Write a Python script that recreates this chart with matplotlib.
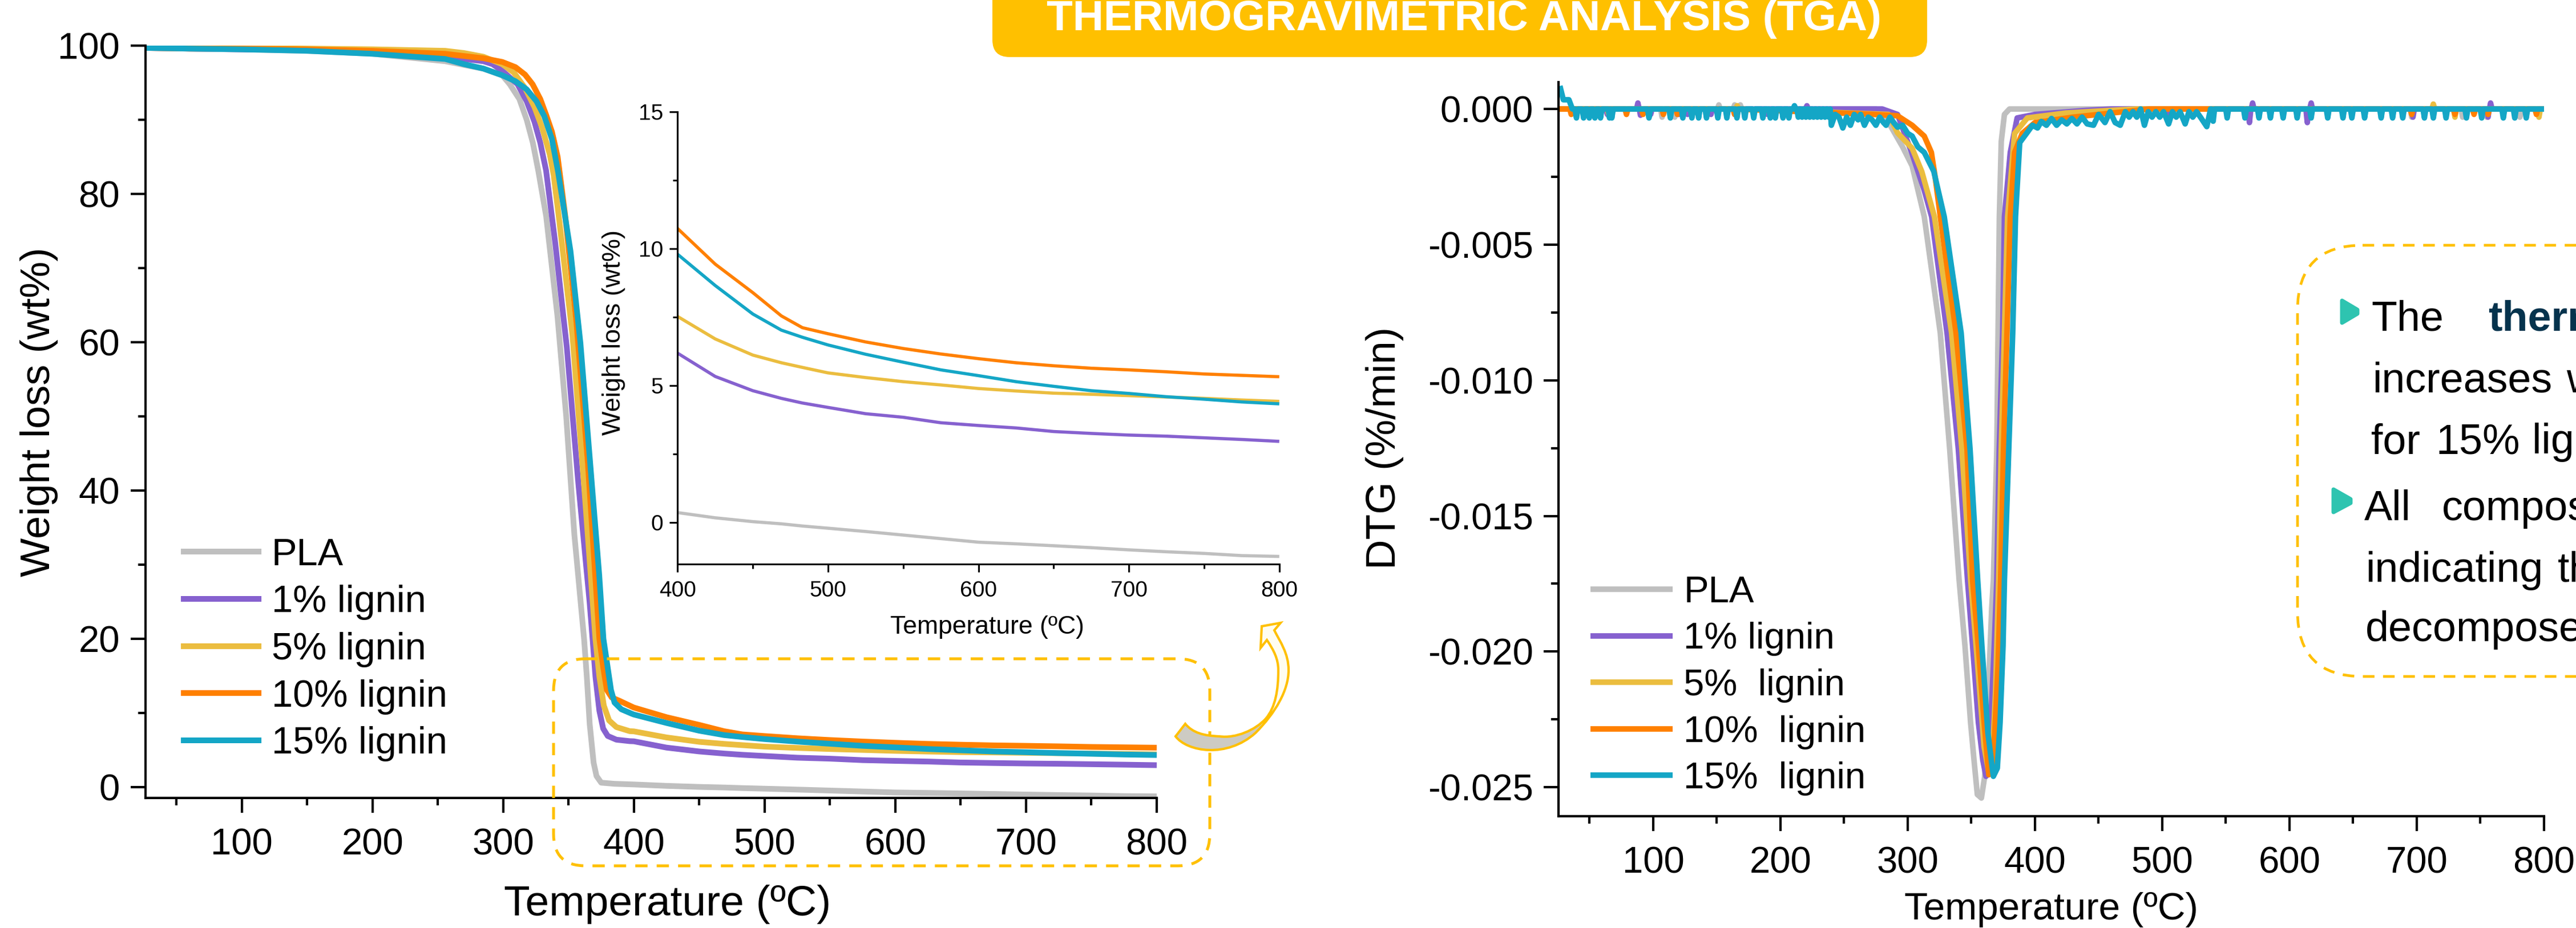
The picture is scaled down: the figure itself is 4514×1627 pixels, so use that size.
import matplotlib
matplotlib.use("Agg")
import matplotlib.pyplot as plt
from matplotlib.patches import FancyBboxPatch, PathPatch, Polygon
from matplotlib.path import Path
from matplotlib.ticker import MultipleLocator
from matplotlib.transforms import Affine2D

plt.rcParams["font.family"] = ["Liberation Sans", "DejaVu Sans"]

W, H = 4514, 1627

names_left = ["PLA", "1% lignin", "5% lignin", "10% lignin", "15% lignin"]
names_right = ["PLA", "1% lignin", "5%  lignin", "10%  lignin", "15%  lignin"]
colors = ["#BFBFBF", "#8661CF", "#EBBD3F", "#FF8000", "#14A6C6"]
dtg_ticks = [0, -0.005, -0.01, -0.015, -0.02, -0.025]
dtg_tick_labels = ["0.000", "-0.005", "-0.010", "-0.015", "-0.020", "-0.025"]

tail_t = [400, 425, 450, 469, 483, 500, 525, 550, 575, 600, 625, 650, 675, 700, 725, 750, 775, 800]
tail_pla = [0.36, 0.17, 0.03, -0.05, -0.13, -0.21, -0.33, -0.46, -0.59, -0.72, -0.78, -0.85, -0.92, -1.0, -1.07, -1.13, -1.21, -1.24]
tail_1 = [6.18, 5.33, 4.81, 4.53, 4.36, 4.2, 3.97, 3.84, 3.64, 3.54, 3.45, 3.32, 3.25, 3.19, 3.15, 3.09, 3.03, 2.96]
tail_5 = [7.52, 6.7, 6.11, 5.83, 5.66, 5.46, 5.29, 5.14, 5.02, 4.89, 4.8, 4.72, 4.68, 4.63, 4.58, 4.53, 4.47, 4.42]
tail_10 = [10.73, 9.43, 8.39, 7.54, 7.11, 6.89, 6.59, 6.35, 6.15, 5.98, 5.83, 5.72, 5.63, 5.57, 5.5, 5.42, 5.37, 5.32]
tail_15 = [9.79, 8.65, 7.61, 7.02, 6.76, 6.48, 6.14, 5.85, 5.57, 5.36, 5.14, 4.97, 4.81, 4.71, 4.59, 4.5, 4.4, 4.33]

head_t_pla = [26.5, 60, 100, 150, 200, 255.6, 270, 284.9, 299.3, 305, 312.4, 318, 322.7, 326.8, 332.9, 341.5, 348.2, 354.5, 361.9, 364, 366.2, 369.2, 371.4, 375, 385]
head_pla = [99.7, 99.6, 99.5, 99.3, 98.9, 97.9, 97.4, 96.9, 96, 94.8, 92.8, 90, 86.9, 83.2, 77, 63.6, 50.1, 34, 20, 14.9, 8.5, 3.3, 1.5, 0.6, 0.45]
head_t_1 = [26.5, 60, 100, 150, 200, 255.6, 270, 284.9, 291.9, 299.3, 311, 318, 324, 328.4, 332.8, 339.9, 348.7, 357.5, 366.1, 368.4, 370.6, 373.6, 376.5, 380, 386.6, 396.8]
head_1 = [99.7, 99.6, 99.5, 99.4, 99.1, 98.5, 98.2, 97.9, 97.5, 96.6, 94.8, 92.5, 89.7, 86.9, 83.2, 73.3, 59.3, 41, 25, 20, 14.9, 10.3, 7.9, 6.9, 6.4, 6.2]
head_t_5 = [26.5, 60, 100, 150, 200, 255.6, 270, 284.9, 299.3, 308, 316.7, 324, 329.9, 335.7, 338.7, 343, 353, 361.8, 370.6, 373.6, 377, 381, 386.6, 396.8]
head_5 = [99.7, 99.7, 99.7, 99.6, 99.5, 99.3, 99, 98.5, 97.5, 96.4, 94.3, 91.7, 88.9, 85.3, 82.5, 76.3, 61, 41, 20, 14.9, 11, 9, 8.1, 7.55]
head_t_10 = [26.5, 60, 100, 150, 200, 255.6, 270, 284.9, 299.3, 309.4, 316.7, 322.5, 328.4, 332.8, 337.3, 341.7, 347.5, 356.1, 364.8, 373.6, 376.5, 379.3, 383, 389.5]
head_10 = [99.7, 99.6, 99.6, 99.5, 99.3, 98.9, 98.6, 98.3, 97.8, 97.1, 96.1, 94.8, 92.8, 90.7, 88.4, 85, 77, 62.6, 43.7, 20, 16.2, 13.1, 12.1, 11.6]
head_t_15 = [26.5, 60, 100, 150, 200, 255.6, 270, 284.9, 299.3, 309.4, 318, 325.5, 331.4, 337.3, 342, 351.5, 359.1, 366.1, 373.5, 376.7, 379.5, 382.5, 385.2, 390.4, 398.4]
head_15 = [99.7, 99.6, 99.5, 99.3, 98.9, 98.2, 97.5, 96.9, 96, 95.2, 94.1, 92.5, 90.5, 87.4, 83, 72.3, 59.9, 44.7, 28.6, 20, 16.7, 13.1, 11.4, 10.5, 9.9]

# DTG outline of each curve
dtg_t_pla = [26, 275, 285, 296, 303.5, 313, 325.6, 333, 340.4, 345, 349.4, 352.5, 354.7, 357.9, 360.5, 363, 366, 367.3, 370, 371, 372, 373.5, 376, 380, 800]
dtg_pla = [0, 0, -0.0005, -0.0014, -0.0021, -0.00397, -0.00826, -0.01255, -0.01737, -0.0198, -0.02262, -0.0242, -0.02527, -0.0254, -0.0246, -0.0219, -0.0184, -0.01737, -0.01255, -0.00826, -0.00397, -0.0012, -0.0002, 0, 0]
dtg_t_1 = [26, 280, 292, 303.5, 313, 318.8, 330.9, 339.8, 347, 351, 355.5, 359, 361.5, 363.5, 366, 368, 370, 371.9, 374.6, 376, 380.6, 386, 400, 440, 460, 800]
dtg_1 = [0, 0, -0.0002, -0.00166, -0.003, -0.00397, -0.00826, -0.01255, -0.01737, -0.0198, -0.0226, -0.024, -0.0246, -0.0245, -0.0219, -0.0198, -0.01737, -0.01255, -0.00826, -0.00397, -0.0016, -0.00033, -0.0002, -0.00005, 0, 0]
dtg_t_5 = [26, 285, 292, 303.5, 311, 321, 334.5, 342.6, 349.5, 355, 360, 363.5, 366.5, 369, 371.5, 373.5, 376, 378.5, 384, 394, 424, 460, 480, 800]
dtg_5 = [0, -0.0002, -0.00088, -0.00145, -0.0023, -0.00397, -0.00826, -0.01255, -0.01737, -0.0205, -0.0235, -0.0244, -0.024, -0.0215, -0.01737, -0.01255, -0.00826, -0.00397, -0.0009, -0.00033, -0.00015, -0.00005, 0, 0]
dtg_t_10 = [26, 273, 292, 303.5, 313, 318.6, 322, 325.6, 338, 346.6, 351, 355.5, 360, 363.7, 365.5, 367.3, 371, 373, 375.3, 378, 380.6, 384, 390, 400, 430, 470, 490, 800]
dtg_10 = [0, -0.0002, -0.00025, -0.0006, -0.001, -0.0016, -0.00265, -0.00397, -0.00826, -0.01255, -0.01737, -0.0198, -0.0226, -0.02454, -0.0245, -0.024, -0.0205, -0.01737, -0.01255, -0.00826, -0.00397, -0.0016, -0.0009, -0.0005, -0.0003, -0.0001, 0, 0]
dtg_t_15 = [26.7, 29.4, 33.8, 36.5, 210, 240, 243, 246, 249, 252, 255, 258, 261, 263, 266, 269, 272, 275, 278, 281, 283, 286, 289, 292, 296, 300, 303.5, 308, 313, 320.5, 328.7, 342, 349, 355, 358.3, 363, 367.3, 370.4, 372.6, 374.9, 376, 379.4, 382.5, 384.7, 388, 393.7, 398, 402, 405, 409, 413, 417, 421, 425, 429, 433, 437, 441, 446, 450, 455, 459, 463, 467, 471, 474, 477, 480, 483, 486, 489, 492, 495, 498, 501, 505, 508, 511, 514, 518, 521, 524, 527, 530, 535, 538, 800]
dtg_15 = [0.00085, 0.00034, 0.00034, 0, 0, -0.0006, -0.0002, -0.0003, -0.0007, -0.0003, -0.0006, -0.0002, -0.0004, -0.0002, -0.0006, -0.0003, -0.0004, -0.0006, -0.0003, -0.0005, -0.0006, -0.0003, -0.0005, -0.00067, -0.0006, -0.0009, -0.001, -0.0014, -0.0016, -0.0023, -0.00397, -0.00826, -0.01255, -0.01737, -0.0198, -0.023, -0.0246, -0.0243, -0.0226, -0.0198, -0.01737, -0.01255, -0.00826, -0.00397, -0.00124, -0.00088, -0.0006, -0.0007, -0.00046, -0.0006, -0.00035, -0.0006, -0.0004, -0.00055, -0.00035, -0.00055, -0.0003, -0.00055, -0.0006, -0.0002, -0.0005, -0.0001, -0.0005, -0.0006, -0.0001, -0.0003, -0.0001, -0.0003, 0, -0.0006, -0.0001, -0.0003, -0.0001, -0.0003, -0.0001, -0.00055, -0.0001, -0.0003, -0.0001, -0.00055, -0.0001, -0.0003, -0.0001, -0.0003, -0.00065, 0, 0]

# single noise spikes on the flat part of each DTG curve
spike_t_pla = [107, 117, 135, 151.6, 164, 168.5, 188, 696, 736, 755, 781]
spike_pla = [-0.0003, -0.0003, -0.0002, 0.00015, 0.00015, 0.00015, -0.0002, -0.0003, -0.0003, -0.0003, -0.0003]
spike_t_1 = [64, 88, 90, 98, 120, 127, 145.4, 164, 179, 190, 220.8, 505, 568.5, 571, 614, 617, 697, 756, 758]
spike_1 = [-0.0002, 0.00022, -0.00023, -0.0002, -0.0002, -0.0002, -0.0002, -0.0002, -0.0002, -0.0002, 0.00012, -0.0005, -0.0005, 0.00022, -0.0005, 0.00022, -0.0003, -0.0003, 0.00022]
spike_t_5 = [65, 166, 713, 730, 796]
spike_5 = [-0.0002, 0.00012, 0.00018, -0.0003, -0.0003]
spike_t_10 = [35.6, 79, 92, 108, 119, 164, 696, 730, 745, 756, 794]
spike_10 = [-0.0002, -0.0002, -0.0002, -0.0002, -0.0002, -0.0002, -0.0002, -0.0002, -0.0002, -0.0002, -0.0002]
spike_t_15 = [39.7, 45.3, 49.8, 54.2, 58.6, 65.7, 67.5, 96.7, 113.5, 123.3, 130.4, 135.7, 141.9, 150.8, 157.9, 165.8, 172, 179, 186.2, 192, 196, 202, 206.6, 211, 214, 217, 220, 223, 226, 229, 232, 235, 238, 540, 551, 565, 576, 585, 595, 606, 617, 630, 642, 649, 659, 672, 681, 689, 706, 713, 723, 739, 751, 768, 777, 786]
spike_15 = [-0.00033] * 23 + [0.00012] + [-0.0003] * 9 + [-0.00045] + [-0.00033] * 22


def px_axes(left, top, right, bottom):
    return [left / W, 1 - bottom / H, (right - left) / W, (bottom - top) / H]


def add_spikes(t, v, spike_t, spike_v):
    pts = list(zip(t, v))
    for a, b in zip(spike_t, spike_v):
        pts += [(a - 1.1, 0), (a, b), (a + 1.1, 0)]
    pts.sort()
    return [p[0] for p in pts], [p[1] for p in pts]


def style_axis(ax, lw, major, minor, size, xpad, ypad):
    ax.spines["top"].set_visible(False)
    ax.spines["right"].set_visible(False)
    ax.spines["left"].set_linewidth(lw)
    ax.spines["bottom"].set_linewidth(lw)
    ax.tick_params(which="major", length=major, width=lw, labelsize=size)
    ax.tick_params(which="minor", length=minor, width=lw)
    ax.tick_params(axis="x", which="major", pad=xpad)
    ax.tick_params(axis="y", which="major", pad=ypad)
    ax.patch.set_visible(False)


fig = plt.figure(figsize=(W / 100, H / 100), dpi=100, facecolor="white")
px = Affine2D().scale(1, -1).translate(0, H)

# main TGA panel
ax1 = fig.add_axes(px_axes(255, 80, 2027, 1399))
tga_t = [head_t_pla + tail_t, head_t_1 + tail_t, head_t_5 + tail_t, head_t_10 + tail_t, head_t_15 + tail_t]
tga_v = [head_pla + tail_pla, head_1 + tail_1, head_5 + tail_5, head_10 + tail_10, head_15 + tail_15]
for t, v, c, n in zip(tga_t, tga_v, colors, names_left):
    ax1.plot(t, v, color=c, lw=7.2, label=n, solid_capstyle="butt", solid_joinstyle="round")
ax1.set_xlim(26.4, 800)
ax1.set_ylim(-1.46, 100)
ax1.xaxis.set_major_locator(MultipleLocator(100))
ax1.xaxis.set_minor_locator(MultipleLocator(50))
ax1.yaxis.set_major_locator(MultipleLocator(20))
ax1.yaxis.set_minor_locator(MultipleLocator(10))
style_axis(ax1, 3, 18.5, 9.5, 47, 19, 14)
ax1.set_xlabel("Temperature (ºC)", fontsize=54)
ax1.xaxis.set_label_coords(1170, 1586, transform=px)
ax1.xaxis.label.set_va("center")
ax1.set_ylabel("Weight loss (wt%)", fontsize=52)
ax1.yaxis.set_label_coords(69, 722, transform=px)
ax1.yaxis.label.set_va("center")
ax1.legend(loc="center left", bbox_to_anchor=(317, 1139), bbox_transform=px, frameon=False,
           fontsize=48, handlelength=2.12, handletextpad=0.26, labelspacing=0.31,
           borderpad=0, borderaxespad=0)

# inset zoom of the tail
ax2 = fig.add_axes(px_axes(1187.4, 195.6, 2241.7, 989), zorder=1)
for t, v, c in zip(tga_t, tga_v, colors):
    ax2.plot(t, v, color=c, lw=4, solid_capstyle="butt", solid_joinstyle="round")
ax2.set_xlim(400, 800)
ax2.set_ylim(-1.52, 15)
ax2.xaxis.set_major_locator(MultipleLocator(100))
ax2.xaxis.set_minor_locator(MultipleLocator(50))
ax2.yaxis.set_major_locator(MultipleLocator(5))
ax2.yaxis.set_minor_locator(MultipleLocator(2.5))
style_axis(ax2, 2.2, 10, 5.5, 28, 11, 8)
ax2.set_xlabel("Temperature (ºC)", fontsize=32)
ax2.xaxis.set_label_coords(1730, 1099, transform=px)
ax2.xaxis.label.set_va("center")
ax2.set_ylabel("Weight loss (wt%)", fontsize=32.5)
ax2.yaxis.set_label_coords(1075, 583, transform=px)
ax2.yaxis.label.set_va("center")

# DTG panel
ax3 = fig.add_axes(px_axes(2731, 144, 4458, 1431))
dtg_t = [dtg_t_pla, dtg_t_1, dtg_t_5, dtg_t_10, dtg_t_15]
dtg_v = [dtg_pla, dtg_1, dtg_5, dtg_10, dtg_15]
spike_t = [spike_t_pla, spike_t_1, spike_t_5, spike_t_10, spike_t_15]
spike_v = [spike_pla, spike_1, spike_5, spike_10, spike_15]
for i in range(5):
    t, v = add_spikes(dtg_t[i], dtg_v[i], spike_t[i], spike_v[i])
    ax3.plot(t, v, color=colors[i], lw=7, label=names_right[i], solid_capstyle="butt", solid_joinstyle="round")
ax3.set_xlim(25.6, 800)
ax3.set_ylim(-0.02607, 0.00099)
ax3.xaxis.set_major_locator(MultipleLocator(100))
ax3.xaxis.set_minor_locator(MultipleLocator(50))
ax3.set_yticks(dtg_ticks, dtg_tick_labels)
ax3.yaxis.set_minor_locator(MultipleLocator(0.0025))
style_axis(ax3, 3, 18.5, 9.5, 47, 19, 13)
ax3.set_xlabel("Temperature (ºC)", fontsize=48.5)
ax3.xaxis.set_label_coords(3594, 1595, transform=px)
ax3.xaxis.label.set_va("center")
ax3.set_ylabel("DTG (%/min)", fontsize=52.5)
ax3.yaxis.set_label_coords(2427, 786, transform=px)
ax3.yaxis.label.set_va("center")
ax3.legend(loc="center left", bbox_to_anchor=(2787, 1202), bbox_transform=px, frameon=False,
           fontsize=47, handlelength=2.2, handletextpad=0.3, labelspacing=0.33,
           borderpad=0, borderaxespad=0)

# title banner
fig.add_artist(FancyBboxPatch((1739 + 30, -80), 1638 - 60, 150, boxstyle="round,pad=30,rounding_size=30",
                              transform=px, fc="#FFC000", ec="none", zorder=3))
fig.text(2566, 53, "THERMOGRAVIMETRIC ANALYSIS (TGA)", transform=px, color="white", fontsize=54,
         fontweight="bold", ha="center", va="baseline", zorder=4)

# dashed boxes
dash = (0, (4.3, 3.2))
fig.add_artist(FancyBboxPatch((970 + 56, 1155 + 56), 1150 - 112, 363 - 112, boxstyle="round,pad=56,rounding_size=56",
                              transform=px, fc="none", ec="#FFC000", lw=3.6, ls=dash, zorder=5))
fig.add_artist(FancyBboxPatch((4026 + 114, 430 + 114), 900 - 228, 756 - 228, boxstyle="round,pad=114,rounding_size=114",
                              transform=px, fc="none", ec="#FFC000", lw=3.4, ls=dash, zorder=5))

# curved arrow from the box to the inset
M, L, C, Z = Path.MOVETO, Path.LINETO, Path.CURVE4, Path.CLOSEPOLY
arrow_v = [(2077, 1269), (2060, 1291), (2080, 1318), (2150, 1330), (2200, 1285), (2235, 1250), (2258, 1210), (2258, 1175),
           (2258, 1145), (2243, 1125), (2233, 1105), (2244, 1092), (2211, 1098), (2209, 1136), (2220, 1122),
           (2232, 1140), (2240, 1155), (2240, 1175), (2240, 1210), (2235, 1240), (2218, 1260),
           (2200, 1280), (2165, 1295), (2137, 1291), (2110, 1290), (2090, 1285), (2077, 1269), (2077, 1269)]
arrow_c = [M, L, C, C, C, C, C, C, C, C, C, L, L, L, L, C, C, C, C, C, C, C, C, C, C, C, C, Z]
fig.add_artist(PathPatch(Path(arrow_v, arrow_c), transform=px, fc="#FFFDF0", ec="none", zorder=6))
gray_v = [(2077, 1269), (2060, 1291), (2080, 1318), (2150, 1330), (2200, 1285), (2218, 1260),
          (2200, 1280), (2165, 1295), (2137, 1291), (2110, 1290), (2090, 1285), (2077, 1269), (2077, 1269)]
gray_c = [M, L, C, C, C, L, C, C, C, C, C, C, Z]
fig.add_artist(PathPatch(Path(gray_v, gray_c), transform=px, fc="#CDCBC3", ec="none", zorder=6))
fig.add_artist(PathPatch(Path(arrow_v, arrow_c), transform=px, fc="none", ec="#FFC000", lw=3, zorder=7))

# text block on the right, cut by the picture edge as in the original
for shape in ([(4104, 527), (4104, 566), (4131, 550), (4131, 543)], [(4089, 858), (4089, 898), (4119, 882), (4119, 875)]):
    fig.add_artist(Polygon(shape, closed=True, transform=px, fc="#2EC4B0", ec="#2EC4B0", lw=5, joinstyle="round", zorder=5))

note_words = [("The", 4155, 580), ("increases", 4157, 688), ("with", 4497, 688), ("for", 4155, 795), ("15%", 4268, 795),
              ("lignin", 4437, 795), ("All", 4143, 912), ("composites", 4279, 912), ("indicating", 4145, 1020),
              ("that", 4482, 1020), ("decomposes", 4145, 1124)]
for word, x, y in note_words:
    fig.text(x, y, word, transform=px, fontsize=53, color="black", ha="left", va="baseline", zorder=5)
fig.text(4360, 580, "thermal", transform=px, fontsize=53, color="#05334D", fontweight="bold", ha="left", va="baseline", zorder=5)

fig.savefig("out.png", dpi=100)
